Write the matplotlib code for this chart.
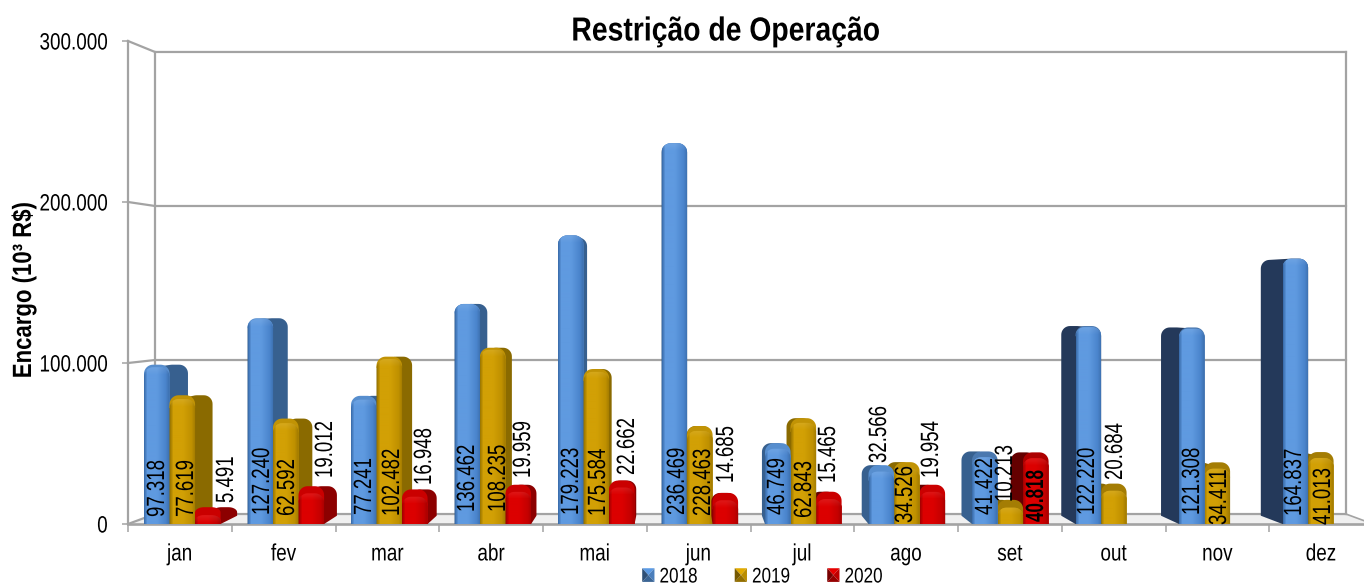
import numpy as np
import matplotlib
matplotlib.use("Agg")
import matplotlib.pyplot as plt
from matplotlib.path import Path
from matplotlib.patches import Polygon, Patch
from matplotlib.colors import to_rgb
from matplotlib.legend_handler import HandlerBase
from matplotlib.patheffects import AbstractPathEffect
from matplotlib.transforms import Affine2D, Bbox

# ---------- data ----------
months = ["jan", "fev", "mar", "abr", "mai", "jun", "jul", "ago", "set", "out", "nov", "dez"]
series_names = ["2018", "2019", "2020"]
values_2018 = [97318, 127240, 77241, 136462, 179223, 236469, 46749, 32566, 41422, 122220, 121308, 164837]
# the 2019 bars for mai and jun are drawn far below their printed labels
values_2019 = [77619, 62592, 102482, 108235, 94500, 57800, 62843, 34526, 10213, 20684, 34411, 41013]
values_2020 = [5491, 19012, 16948, 19959, 22662, 14685, 15465, 19954, 40818, None, None, None]
labels_2018 = ["97.318", "127.240", "77.241", "136.462", "179.223", "236.469", "46.749", "32.566", "41.422", "122.220", "121.308", "164.837"]
labels_2019 = ["77.619", "62.592", "102.482", "108.235", "175.584", "228.463", "62.843", "34.526", "10.213", "20.684", "34.411", "41.013"]
labels_2020 = ["5.491", "19.012", "16.948", "19.959", "22.662", "14.685", "15.465", "19.954", "40.818", None, None, None]
y_ticks = [0, 100000, 200000, 300000]
y_tick_labels = ["0", "100.000", "200.000", "300.000"]

# ---------- style / placement (pixels of the 1364x586 picture) ----------
plt.rcParams["font.family"] = ["Liberation Sans"]
PX_X = 103.75
PX_Y = 483 / 300000
AX_L, AX_B, AX_T = 128, 524, 41
def X(px): return (px - AX_L) / PX_X
def Y(py): return (AX_B - py) / PX_Y
label_cx = [[157, 262, 364, 467, 571, 677, 777, 879, 985, 1087, 1192, 1294],
            [186, 287, 392, 498, 598, 703, 804, 905, 1005, 1115, 1219, 1323],
            [226, 325, 424, 523, 627, 726, 828, 931, 1036, 0, 0, 0]]
label_base = [[517, 515, 515, 512, 515, 515, 515, 463, 515, 515, 515, 516],
              [517, 516, 516, 512, 516, 516, 518, 523, 502, 480, 525, 525],
              [503, 478, 485, 478, 475, 483, 483, 478, 522, 0, 0, 0]]
front_cols = [("#3c6fae", "#5f9ae0", "#4a84cc"), ("#a07a00", "#d2a005", "#bf9000"), ("#a80000", "#dc0000", "#c40000")]
side_cols = [("#37608f", "#24395a"), ("#8a6a00", "#8a6a00"), ("#8c0000", "#640000")]
legend_cols = ["#4f86c6", "#c49400", "#c80000"]
BAR_W = 25.6
RADIUS = 9
DEPTH = 0.036
VP_X, VP_Y = X(680), Y(294)
W_DEPTH = 0.0434
WVP_X, WVP_Y = X(750), Y(294)
GRID = "#a3a3a3"
TICK_SQUEEZE = 0.8


class Squeeze(AbstractPathEffect):
    """Keeps the text real but condenses its glyphs along the baseline (the source font is a narrow one)."""
    def __init__(self, sx, anchor="center"):
        super().__init__()
        self.sx, self.anchor = sx, anchor

    def draw_path(self, renderer, gc, tpath, affine, rgbFace=None):
        v = tpath.vertices
        x0, x1 = v[:, 0].min(), v[:, 0].max()
        c = {"center": (x0 + x1) / 2, "start": x0, "end": x1}[self.anchor]
        local = Affine2D().translate(-c, 0).scale(self.sx, 1).translate(c, 0)
        renderer.draw_path(gc, tpath, local + affine, rgbFace)


def true_extent(text, sx):
    """Make a right-aligned text report the box that its condensed glyphs really occupy."""
    original = text.get_window_extent

    def extent(renderer=None, dpi=None):
        b = original(renderer, dpi)
        return Bbox.from_extents(b.x1 - b.width * sx, b.y0, b.x1, b.y1)
    text.get_window_extent = extent


fig = plt.figure(figsize=(13.64, 5.86), dpi=100, facecolor="white")
ax = fig.add_axes([AX_L / 1364, (586 - AX_B) / 586, 12 * PX_X / 1364, (AX_B - AX_T) / 586])
ax.set_xlim(0, 12)
ax.set_ylim(0, 300000)
for s in ax.spines.values():
    s.set_visible(False)
ax.patch.set_visible(False)


def wall(x, y):
    return x + W_DEPTH * (WVP_X - x), y + W_DEPTH * (WVP_Y - y)


# floor and walls
fx0, fy0 = wall(0, 0)
fx1, fy1 = wall(12, 0)
LW = 1.6
ax.add_patch(Polygon([(0, 0), (fx0, fy0), (fx1, fy1), (12, 0)], closed=True, fc="#f0f0f0", ec="none", zorder=0.5, clip_on=False))
ax.plot([0, 12], [0, 0], color=GRID, lw=1.9, zorder=1, clip_on=False)
ax.plot([0, 0], [0, 300000], color=GRID, lw=LW, zorder=1, clip_on=False)
ax.plot([fx0, fx0], [fy0, wall(0, 300000)[1]], color=GRID, lw=LW, zorder=1, clip_on=False)
ax.plot([fx1, fx1], [fy1, wall(12, 300000)[1]], color=GRID, lw=LW, zorder=1, clip_on=False)
ax.plot([fx1, 12], [fy1, 0], color=GRID, lw=1.2, zorder=1, clip_on=False)
for t in y_ticks:
    bx0, by0 = wall(0, t)
    bx1, by1 = wall(12, t)
    ax.plot([0, bx0, bx1], [t, by0, by1], color=GRID, lw=LW, zorder=1, clip_on=False)


def rounded(x0, w, h):
    """Outline of a bar with rounded top corners, in data units."""
    rx = RADIUS / PX_X
    ry = min(RADIUS, h * PX_Y * 0.6) / PX_Y
    a = np.linspace(0, np.pi / 2, 10)
    right = np.c_[x0 + w - rx + rx * np.cos(a), h - ry + ry * np.sin(a)]
    left = np.c_[x0 + rx - rx * np.sin(a), h - ry + ry * np.cos(a)]
    return np.vstack([[(x0, 0), (x0 + w, 0)], right, left])


def hull(pts):
    key = np.c_[pts[:, 0] * PX_X, pts[:, 1] * PX_Y]
    idx = sorted(range(len(pts)), key=lambda k: (key[k, 0], key[k, 1]))

    def half(seq):
        out = []
        for k in seq:
            while len(out) >= 2:
                a, b = key[out[-2]], key[out[-1]]
                c = key[k]
                if (b[0] - a[0]) * (c[1] - a[1]) - (b[1] - a[1]) * (c[0] - a[0]) <= 0:
                    out.pop()
                else:
                    break
            out.append(k)
        return out[:-1]
    return pts[half(idx) + half(idx[::-1])]


def face_image(cols, height_px):
    edge, mid, right = [np.array(to_rgb(c)) for c in cols]
    w = 26
    h = max(int(height_px), 2)
    t = np.linspace(0, 1, w)
    prof = np.zeros((w, 3))
    for c in range(3):
        prof[:, c] = np.interp(t, [0, 0.12, 0.5, 0.85, 1], [edge[c], mid[c], mid[c], right[c], edge[c]])
    img = np.repeat(prof[None, :, :], h, axis=0)
    top = np.clip(1 - np.arange(h) / 7.0, 0, 1)[:, None, None] * 0.10
    return np.clip(img * (1 - top) + top * 0.95, 0, 1)


all_vals = [values_2018, values_2019, values_2020]
all_labs = [labels_2018, labels_2019, labels_2020]
z = 2.0
for i in range(len(months)):
    start = X(144 + 103.5 * i)
    w = BAR_W / PX_X
    order = [0, 1, 2] if i <= 5 else [2, 1, 0]
    for k in order:
        v = all_vals[k][i]
        if v is None:
            continue
        x0 = start + k * 25.5 / PX_X
        front = rounded(x0, w, v)
        back = front + DEPTH * (np.array([VP_X, VP_Y]) - front)
        side = hull(np.vstack([front, back]))
        side_c = side_cols[k][1 if i >= 9 or (k == 2 and i >= 6) else 0]
        ax.add_patch(Polygon(side, closed=True, fc=side_c, ec="none", zorder=z))
        z += 0.01
        # top face: the strip above the front face, lit a little darker than the front
        lift = DEPTH * (VP_Y - v)
        if lift > 0:
            arc = front[2:]
            top_pts = np.vstack([arc, arc + [0, lift]])
            f = 0.78 if i >= 8 else 0.92
            top_c = tuple(np.array(to_rgb(front_cols[k][1])) * f)
            ax.add_patch(Polygon(hull(top_pts), closed=True, fc=top_c, ec="none", zorder=z))
            z += 0.01
        path = Path(np.vstack([front, front[:1]]), closed=True)
        bar = ax.bar(x0, v, width=w, align="edge", color=front_cols[k][1], linewidth=0, zorder=z)[0]
        bar.set_clip_path(path, ax.transData)
        z += 0.01
        im = ax.imshow(face_image(front_cols[k], v * PX_Y), extent=(x0, x0 + w, 0, v), aspect="auto",
                       interpolation="bilinear", zorder=z)
        im.set_clip_path(path, ax.transData)
        z += 0.01

for k in range(3):
    for i in range(len(months)):
        lab = all_labs[k][i]
        if lab is None:
            continue
        bold = lab == "40.818"
        ax.text(X(label_cx[k][i]), Y(label_base[k][i]), lab, rotation=90, ha="center", va="bottom",
                fontsize=18, color="black", zorder=50, fontweight="bold" if bold else "normal",
                path_effects=[Squeeze(0.68 if bold else 0.745, "start")])

ax.set_xlim(0, 12)
ax.set_ylim(0, 300000)
ax.set_xticks(np.arange(0, 13))
ax.set_xticklabels([])
ax.set_xticks(np.arange(12) + 0.5, labels=months, minor=True)
ax.tick_params(axis="x", which="major", length=5.5, width=1.1, color=GRID)
ax.tick_params(axis="x", which="minor", length=0, pad=14, labelsize=17)
ax.set_yticks(y_ticks, labels=y_tick_labels)
ax.tick_params(axis="y", length=4.5, width=1.1, color=GRID, pad=10, labelsize=17)
for t in ax.get_xticklabels(minor=True):
    t.set_path_effects([Squeeze(TICK_SQUEEZE, "center")])
for t in ax.get_yticklabels():
    t.set_path_effects([Squeeze(TICK_SQUEEZE, "end")])
    true_extent(t, TICK_SQUEEZE)

fig.text(726 / 1364, 1 - 32 / 586, "Restrição de Operação", ha="center", va="center", fontsize=24,
         fontweight="bold", path_effects=[Squeeze(0.85, "center")])
fig.text(24 / 1364, 1 - 290 / 586, "Encargo (10³ R$)", ha="center", va="center", rotation=90, fontsize=19,
         fontweight="bold", path_effects=[Squeeze(0.84, "center")])


class Bevel(HandlerBase):
    def create_artists(self, legend, orig, xd, yd, width, height, fontsize, trans):
        base = np.array(to_rgb(orig.get_facecolor()[:3]))
        x0, y0 = -xd, -yd
        x1, y1 = x0 + width, y0 + height
        cx, cy = (x0 + x1) / 2, (y0 + y1) / 2
        tris = [([(x0, y1), (x1, y1), (cx, cy)], 1.15), ([(x1, y1), (x1, y0), (cx, cy)], 0.95),
                ([(x1, y0), (x0, y0), (cx, cy)], 0.75), ([(x0, y0), (x0, y1), (cx, cy)], 0.6)]
        return [Polygon(p, closed=True, fc=tuple(np.clip(base * f, 0, 1)), ec="none", transform=trans) for p, f in tris]


handles = [Patch(facecolor=c, label=n) for c, n in zip(legend_cols, series_names)]
leg = fig.legend(handles=handles, loc="center", bbox_to_anchor=(767 / 1364, 1 - 577 / 586), ncol=3, frameon=False,
                 fontsize=15.2, handlelength=0.58, handleheight=0.62, handletextpad=0.24, columnspacing=1.33,
                 borderpad=0, labelspacing=0, handler_map={Patch: Bevel()})
for t in leg.get_texts():
    t.set_path_effects([Squeeze(0.81, "start")])

fig.savefig("out.png", dpi=100, facecolor="white")
